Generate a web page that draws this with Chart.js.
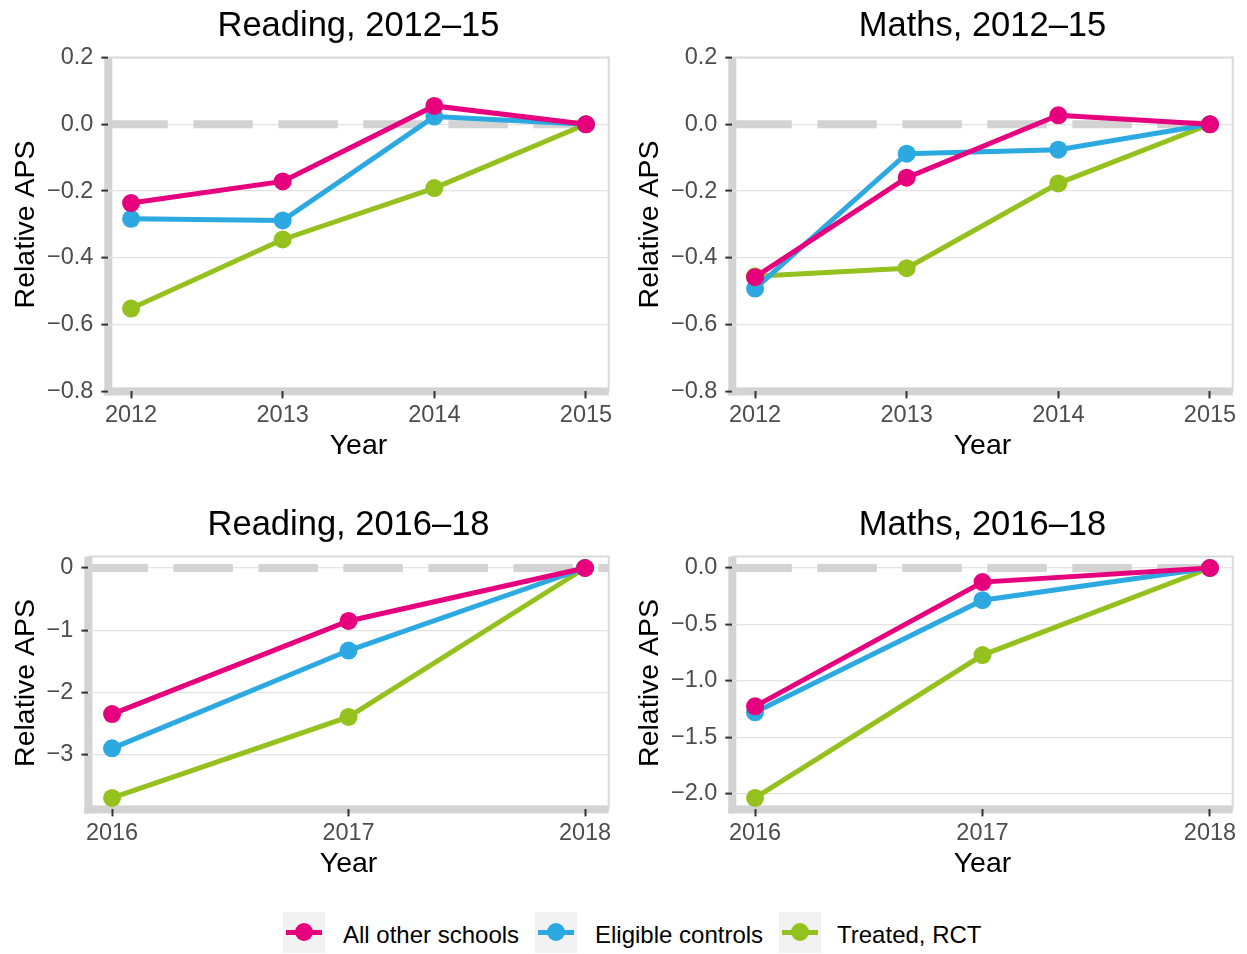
<!DOCTYPE html>
<html>
<head>
<meta charset="utf-8">
<title>Relative APS by year</title>
<script src="https://cdn.jsdelivr.net/npm/chart.js@4.4.1/dist/chart.umd.min.js"></script>
<style>
  html, body { margin: 0; padding: 0; background: #ffffff; }
  body { width: 1247px; height: 954px; position: relative; overflow: hidden;
         font-family: "Liberation Sans", Arial, Helvetica, sans-serif; }
  canvas { position: absolute; }
  .key { position: absolute; top: 912px; width: 42px; height: 41px; background: #f2f2f2; }
  .key .kline { position: absolute; left: 3px; right: 3px; top: 18px; height: 5px; }
  .key .kdot { position: absolute; left: 12px; top: 11px; width: 18px; height: 18px; border-radius: 50%; }
  .ltxt { position: absolute; top: 921px; font-size: 24px; line-height: 28px; color: #000; white-space: nowrap; }
</style>
</head>
<body>
<canvas id="readingEarly" width="620" height="470" style="left:0px;top:0px"></canvas>
<canvas id="mathsEarly" width="620" height="470" style="left:624px;top:0px"></canvas>
<canvas id="readingLate" width="620" height="389" style="left:0px;top:499px"></canvas>
<canvas id="mathsLate" width="620" height="389" style="left:624px;top:499px"></canvas>
<div id="legend"></div>

<script>
// ---- Data -----------------------------------------------------------------
const seriesNames  = ['All other schools', 'Eligible controls', 'Treated, RCT'];
const seriesColors = ['#E6007E', '#2CA9E1', '#95C11F'];

const years1215 = [2012, 2013, 2014, 2015];
const years1618 = [2016, 2017, 2018];

// Reading, 2012–15
const readingEarlyOther    = [-0.236, -0.171, 0.055, 0];
const readingEarlyControls = [-0.283, -0.288, 0.023, 0];
const readingEarlyTreated  = [-0.552, -0.345, -0.191, 0];

// Maths, 2012–15
const mathsEarlyOther    = [-0.458, -0.160, 0.027, 0];
const mathsEarlyControls = [-0.492, -0.088, -0.076, 0];
const mathsEarlyTreated  = [-0.455, -0.431, -0.177, 0];

// Reading, 2016–18
const readingLateOther    = [-2.345, -0.850, 0];
const readingLateControls = [-2.895, -1.325, 0];
const readingLateTreated  = [-3.690, -2.390, 0];

// Maths, 2016–18
const mathsLateOther    = [-1.225, -0.125, 0];
const mathsLateControls = [-1.278, -0.285, 0];
const mathsLateTreated  = [-2.036, -0.771, 0];

// Tick steps and fixed limits
const earlyLimits = [-0.8, 0.2];
const earlyStep = 0.2;
const readingLateStep = 1;
const mathsLateStep = 0.5;

// ---- Shared styling -------------------------------------------------------
const FONT = '"Liberation Sans", Arial, Helvetica, sans-serif';
const AXIS_GREY = '#d3d3d3';
const GRID_GREY = '#e3e3e3';
const TICK_DARK = '#333333';
const LABEL_GREY = '#4d4d4d';

function minusFmt(v, digits) {
  const r = Math.round(v * 1000) / 1000;
  const s = Math.abs(r).toFixed(digits);
  return (r < 0 ? '\u2212' : '') + s;
}

// thick grey axis bars along the left and bottom of the panel
const axisBars = {
  id: 'axisBars',
  beforeDraw(chart) {
    const {ctx, chartArea: a} = chart;
    ctx.save();
    ctx.fillStyle = AXIS_GREY;
    ctx.fillRect(a.left - 4, a.top, 8, a.bottom + 4 - a.top);
    ctx.fillRect(a.left - 4, a.bottom - 4, a.right - a.left + 4, 8);
    ctx.restore();
  }
};

// thin light frame on the top and right of the panel
const panelFrame = {
  id: 'panelFrame',
  beforeDatasetsDraw(chart) {
    const {ctx, chartArea: a} = chart;
    ctx.save();
    ctx.strokeStyle = '#d9d9d9';
    ctx.lineWidth = 2;
    ctx.beginPath();
    ctx.moveTo(a.left, a.top);
    ctx.lineTo(a.right, a.top);
    ctx.lineTo(a.right, a.bottom);
    ctx.stroke();
    ctx.restore();
  }
};

function dataRange(arrays) {
  let lo = Infinity, hi = -Infinity;
  arrays.forEach(arr => arr.forEach(v => { lo = Math.min(lo, v); hi = Math.max(hi, v); }));
  const pad = 0.05 * (hi - lo);
  return [lo - pad, hi + pad];
}

function makePanel(id, opts) {
  const years = opts.years;
  const xPad = 0.05 * (years[years.length - 1] - years[0]);
  const xMin = years[0] - xPad;
  const xMax = years[years.length - 1] + xPad;

  const datasets = [{
    // dashed zero reference line
    data: [{x: xMin, y: 0}, {x: xMax, y: 0}],
    borderColor: AXIS_GREY,
    borderWidth: 8,
    borderDash: [59.5, 25.5],
    borderCapStyle: 'butt',
    pointRadius: 0,
    order: 10
  }];
  opts.series.forEach((vals, i) => {
    datasets.push({
      label: seriesNames[i],
      data: vals.map((v, k) => ({x: years[k], y: v})),
      borderColor: seriesColors[i],
      backgroundColor: seriesColors[i],
      borderWidth: 5,
      pointRadius: 9,
      pointBorderWidth: 0,
      pointBackgroundColor: seriesColors[i],
      tension: 0,
      order: i + 1
    });
  });

  new Chart(document.getElementById(id), {
    type: 'line',
    data: { datasets },
    plugins: [axisBars, panelFrame],
    options: {
      responsive: false,
      animation: false,
      events: [],
      layout: { padding: { left: 0, right: 11.3, top: 0, bottom: 0 } },
      plugins: {
        legend: { display: false },
        tooltip: { enabled: false },
        title: {
          display: true,
          text: opts.title,
          fullSize: false,
          color: '#000000',
          font: { family: FONT, size: 34.5, weight: 'normal' },
          padding: { top: 5.6, bottom: 10.5 }
        }
      },
      scales: {
        x: {
          type: 'linear',
          min: xMin,
          max: xMax,
          afterFit: s => { s.height = 78.6; },
          ticks: {
            stepSize: 1,
            includeBounds: false,
            autoSkip: false,
            maxRotation: 0,
            color: LABEL_GREY,
            padding: 3,
            font: { family: FONT, size: 23.5 },
            callback: v => String(v)
          },
          grid: { drawOnChartArea: false, drawTicks: true, tickLength: 7, tickWidth: 2, tickColor: TICK_DARK },
          border: { display: false },
          title: {
            display: true,
            text: 'Year',
            color: '#000000',
            font: { family: FONT, size: 28.5, weight: 'normal' },
            padding: { top: 0, bottom: 6.7 }
          }
        },
        y: {
          type: 'linear',
          min: opts.yMin,
          max: opts.yMax,
          afterFit: s => { s.width = opts.yWidth; },
          ticks: {
            stepSize: opts.step,
            includeBounds: false,
            autoSkip: false,
            color: LABEL_GREY,
            padding: 8,
            font: { family: FONT, size: 23.5 },
            callback: v => minusFmt(v, opts.digits)
          },
          grid: {
            color: c => (c.tick && Math.abs(c.tick.value - opts.yMin) < 1e-9) ? 'rgba(0,0,0,0)' : GRID_GREY,
            lineWidth: 1.2, drawTicks: true, tickLength: 7, tickWidth: 2, tickColor: TICK_DARK
          },
          border: { display: false },
          title: {
            display: true,
            text: 'Relative APS',
            color: '#000000',
            font: { family: FONT, size: 28.5, weight: 'normal' },
            padding: { top: 9.2, bottom: 0 }
          }
        }
      }
    }
  });
}

const readingLateRange = dataRange([readingLateOther, readingLateControls, readingLateTreated]);
const mathsLateRange = dataRange([mathsLateOther, mathsLateControls, mathsLateTreated]);

makePanel('readingEarly', {
  title: 'Reading, 2012\u201315', years: years1215,
  series: [readingEarlyOther, readingEarlyControls, readingEarlyTreated],
  yMin: earlyLimits[0], yMax: earlyLimits[1], step: earlyStep, digits: 1, yWidth: 108.3
});
makePanel('mathsEarly', {
  title: 'Maths, 2012\u201315', years: years1215,
  series: [mathsEarlyOther, mathsEarlyControls, mathsEarlyTreated],
  yMin: earlyLimits[0], yMax: earlyLimits[1], step: earlyStep, digits: 1, yWidth: 108.3
});
makePanel('readingLate', {
  title: 'Reading, 2016\u201318', years: years1618,
  series: [readingLateOther, readingLateControls, readingLateTreated],
  yMin: readingLateRange[0], yMax: readingLateRange[1], step: readingLateStep, digits: 0, yWidth: 88.4
});
makePanel('mathsLate', {
  title: 'Maths, 2016\u201318', years: years1618,
  series: [mathsLateOther, mathsLateControls, mathsLateTreated],
  yMin: mathsLateRange[0], yMax: mathsLateRange[1], step: mathsLateStep, digits: 1, yWidth: 108.3
});

// ---- Shared legend --------------------------------------------------------
const keyLefts = [283, 535, 779];
const textLefts = [343, 595, 837];
const legend = document.getElementById('legend');
seriesNames.forEach((name, i) => {
  const key = document.createElement('div');
  key.className = 'key';
  key.style.left = keyLefts[i] + 'px';
  key.innerHTML = '<span class="kline" style="background:' + seriesColors[i] + '"></span>' +
                  '<span class="kdot" style="background:' + seriesColors[i] + '"></span>';
  legend.appendChild(key);
  const txt = document.createElement('div');
  txt.className = 'ltxt';
  txt.style.left = textLefts[i] + 'px';
  txt.textContent = name;
  legend.appendChild(txt);
});
</script>
</body>
</html>
